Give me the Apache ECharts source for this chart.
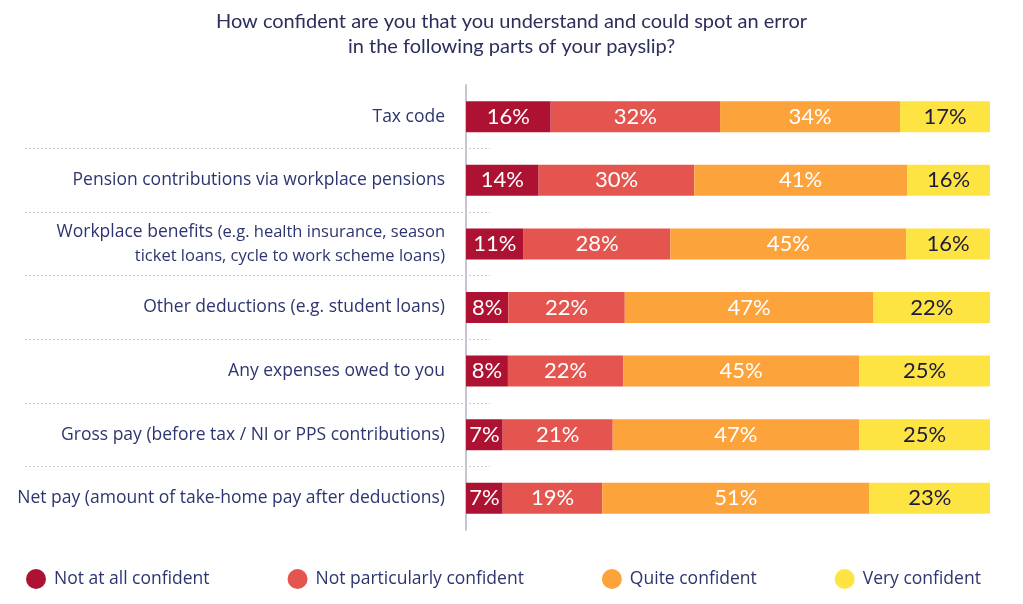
<!DOCTYPE html>
<html>
<head>
<meta charset="utf-8">
<script src="https://cdn.jsdelivr.net/npm/echarts@6/dist/echarts.min.js"></script>
<style>html,body{margin:0;padding:0;background:#fff;}#c{width:1023px;height:604px;}</style>
</head>
<body>
<div id="c"></div>
<script>
const categories = [
  'Tax code',
  'Pension contributions via workplace pensions',
  'Workplace benefits',
  'Other deductions (e.g. student loans)',
  'Any expenses owed to you',
  'Gross pay (before tax / NI or PPS contributions)',
  'Net pay (amount of take-home pay after deductions)'
];
const seriesNames = ['Not at all confident', 'Not particularly confident', 'Quite confident', 'Very confident'];
const notAtAll     = [16, 14, 11, 8, 8, 7, 7];
const notParticul  = [32, 30, 28, 22, 22, 21, 19];
const quite        = [34, 41, 45, 47, 45, 47, 51];
const very         = [17, 16, 16, 22, 25, 25, 23];
const colors = ['#ad1233', '#e4554f', '#fda33b', '#fee443'];
const labelColors = ['#ffffff', '#ffffff', '#ffffff', '#1b1b3d'];

const raw = [notAtAll, notParticul, quite, very];
const sums = categories.map((c, i) => raw.reduce((a, s) => a + s[i], 0));

const series = raw.map((vals, si) => ({
  name: seriesNames[si],
  type: 'bar',
  stack: 'total',
  barWidth: 31,
  xAxisIndex: 0,
  yAxisIndex: 0,
  itemStyle: { color: colors[si] },
  data: vals.map((v, i) => ({ value: v / sums[i] * 100, raw: v })),
  label: {
    show: true,
    position: 'inside',
    color: labelColors[si],
    fontFamily: 'Lato',
    fontSize: 22,
    formatter: p => p.data.raw + '%'
  }
}));

const chart = echarts.init(document.getElementById('c'));
chart.setOption({
  animation: false,
  color: colors,
  title: {
    text: 'How confident are you that you understand and could spot an error\nin the following parts of your payslip?',
    left: 'center',
    top: 4,
    textStyle: { fontFamily: 'Lato', fontSize: 20, fontWeight: 'normal', color: '#2c2f5b', lineHeight: 25 }
  },
  legend: {
    bottom: 10,
    left: 21,
    itemGap: 78,
    itemWidth: 20,
    itemHeight: 20,
    icon: 'circle',
    textStyle: { fontFamily: 'Open Sans', fontSize: 17.5, color: '#2d3570', padding: [0, 0, 0, 3] },
    data: seriesNames
  },
  grid: [
    { left: 466, right: 33, top: 85, height: 445 },
    { left: 25, right: 533, top: 85, height: 445 }
  ],
  xAxis: [
    { type: 'value', gridIndex: 0, min: 0, max: 100, show: false },
    { type: 'value', gridIndex: 1, min: 0, max: 100, show: false }
  ],
  yAxis: [
    {
      type: 'category', gridIndex: 0, inverse: true, data: categories,
      axisLine: { show: true, lineStyle: { color: '#c6c6d2', width: 2 } },
      axisTick: { show: false },
      splitLine: { show: false },
      axisLabel: {
        margin: 21,
        fontFamily: 'Open Sans',
        fontSize: 17.5,
        color: '#2d3570',
        formatter: v => v === 'Workplace benefits'
          ? '{a|Workplace benefits} {b|(e.g. health insurance, season}\n{b|ticket loans, cycle to work scheme loans)}'
          : v,
        rich: {
          a: { fontFamily: 'Open Sans', fontSize: 17.5, color: '#2d3570', lineHeight: 24 },
          b: { fontFamily: 'Open Sans', fontSize: 16.5, color: '#2d3570', lineHeight: 24 }
        }
      }
    },
    {
      type: 'category', gridIndex: 1, inverse: true, data: categories,
      axisLine: { show: false }, axisTick: { show: false }, axisLabel: { show: false },
      splitLine: { show: true, showMinLine: false, showMaxLine: false, lineStyle: { color: '#c8c8d6', type: [2, 2], width: 1 } }
    }
  ],
  series: series
});
</script>
</body>
</html>
